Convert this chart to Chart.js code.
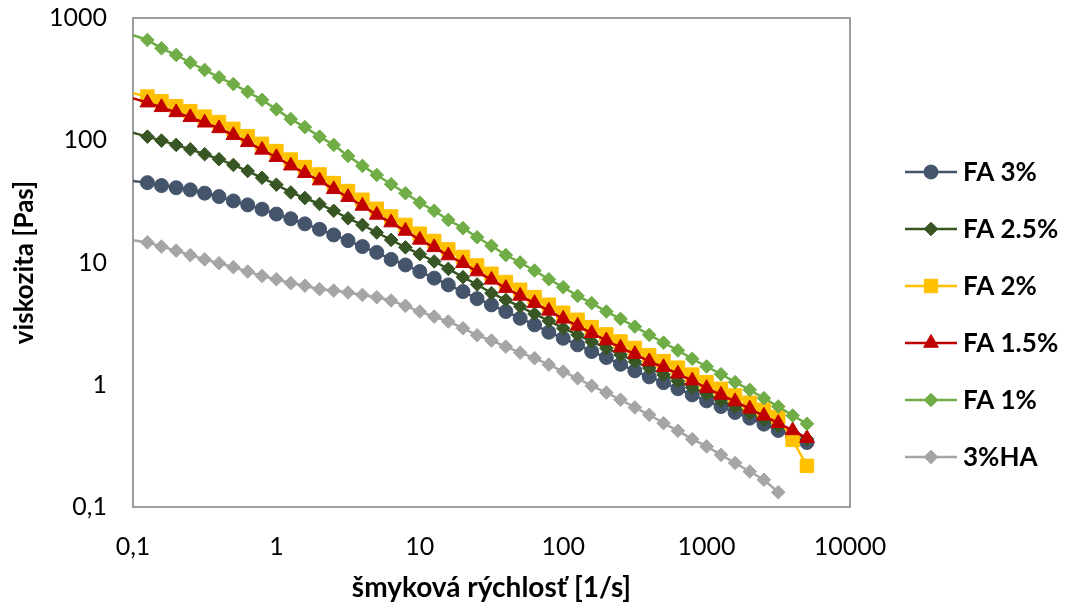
<!DOCTYPE html>
<html>
<head>
<meta charset="utf-8">
<script src="https://cdn.jsdelivr.net/npm/chart.js@4.4.1/dist/chart.umd.min.js"></script>
<style>
  html, body { margin: 0; padding: 0; background: #fff; }
</style>
</head>
<body>
<canvas id="grafViskozita" width="1069" height="607"></canvas>
<script>
// data (odčítané z grafu)
const shearRate = [0.0794, 0.126, 0.158, 0.2, 0.251, 0.316, 0.398, 0.501, 0.631, 0.794, 1,
  1.26, 1.58, 2, 2.51, 3.16, 3.98, 5.01, 6.31, 7.94, 10,
  12.6, 15.8, 20, 25.1, 31.6, 39.8, 50.1, 63.1, 79.4, 100,
  126, 158, 200, 251, 316, 398, 501, 631, 794, 1000,
  1260, 1580, 2000, 2510, 3160, 3980, 5010];

const fa3 = [48, 45.0, 42.6, 40.9, 39.3, 36.9, 34.6, 31.9, 29.6, 27.3, 24.9,
  22.8, 20.7, 18.7, 16.8, 15.1, 13.5, 12.1, 10.6, 9.55, 8.43,
  7.45, 6.56, 5.78, 5.06, 4.50, 3.97, 3.50, 3.09, 2.69, 2.40,
  2.12, 1.87, 1.67, 1.47, 1.30, 1.16, 1.04, 0.927, 0.826, 0.738,
  0.664, 0.593, 0.533, 0.476, 0.423, 0.378, 0.337];

const fa25 = [124, 107, 99.3, 91.6, 84.3, 76.9, 70.0, 62.8, 56.0, 49.3, 43.3,
  37.4, 33.7, 30.1, 26.5, 23.0, 20.3, 17.6, 15.3, 13.3, 11.7,
  10.2, 8.87, 7.59, 6.61, 5.61, 4.94, 4.36, 3.80, 3.33, 2.90,
  2.56, 2.25, 1.99, 1.76, 1.55, 1.37, 1.21, 1.07, 0.951, 0.841,
  0.745, 0.661, 0.586, 0.519, 0.460, 0.407, 0.361];

const fa2 = [257, 228, 209, 190, 173, 156, 141, 124, 108, 93.5, 81.5,
  69.5, 60.3, 52.5, 44.6, 38.4, 32.6, 27.5, 23.8, 20.3, 17.2,
  15.0, 12.8, 11.1, 9.46, 8.09, 6.92, 5.98, 5.21, 4.51, 3.88,
  3.40, 2.96, 2.58, 2.26, 2.00, 1.74, 1.56, 1.38, 1.21, 1.05,
  0.927, 0.818, 0.713, 0.625, 0.545, 0.354, 0.217];

const fa15 = [240, 203, 186, 169, 154, 139, 125, 110, 96.2, 83.4, 72.6,
  61.9, 53.7, 46.8, 39.7, 34.2, 29.0, 24.5, 21.2, 18.1, 15.3,
  13.3, 11.4, 9.86, 8.43, 7.21, 6.17, 5.33, 4.65, 4.02, 3.46,
  3.03, 2.64, 2.30, 2.01, 1.78, 1.55, 1.39, 1.23, 1.08, 0.938,
  0.826, 0.730, 0.635, 0.557, 0.485, 0.423, 0.366];

const fa1 = [795, 661, 565, 498, 432, 376, 327, 288, 249, 214, 179,
  149, 128, 107, 91.6, 74.5, 61.7, 52.0, 43.7, 36.9, 30.9,
  26.5, 22.3, 19.1, 16.1, 13.7, 11.5, 10.0, 8.59, 7.29, 6.28,
  5.33, 4.65, 3.97, 3.46, 2.99, 2.56, 2.21, 1.91, 1.63, 1.41,
  1.22, 1.05, 0.908, 0.776, 0.664, 0.560, 0.479];

const ha3 = [15.8, 14.6, 13.5, 12.5, 11.5, 10.6, 9.87, 9.16, 8.43, 7.76, 7.29,
  6.78, 6.46, 6.05, 5.89, 5.68, 5.43, 5.20, 4.89, 4.42, 3.97,
  3.61, 3.29, 2.90, 2.54, 2.30, 2.05, 1.83, 1.65, 1.46, 1.28,
  1.13, 0.980, 0.863, 0.754, 0.652, 0.568, 0.485, 0.420, 0.359, 0.313,
  0.267, 0.229, 0.195, 0.167, 0.132];

const nazvy = ['FA 3%', 'FA 2.5%', 'FA 2%', 'FA 1.5%', 'FA 1%', '3%HA'];
const xTicks = [0.1, 1, 10, 100, 1000, 10000];
const xTickLabels = ['0,1', '1', '10', '100', '1000', '10000'];
const yTicks = [0.1, 1, 10, 100, 1000];
const yTickLabels = ['0,1', '1', '10', '100', '1000'];

// vzhľad sérií
const farby = ['#44546A', '#375623', '#FFC000', '#C00000', '#70AD47', '#A5A5A5'];
const znacky = ['circle', 'rectRot', 'rect', 'triangle', 'rectRot', 'rectRot'];
const velkosti = [7, 6.8, 9.5, 8.5, 6.8, 6.8];

const FONT = 'Lato, "Open Sans", sans-serif';

function body(hodnoty) {
  return hodnoty.map((v, i) => ({ x: shearRate[i], y: v }));
}

const serie = [fa3, fa25, fa2, fa15, fa1, ha3];
const datasets = serie.map((s, i) => ({
  label: nazvy[i],
  data: body(s),
  borderColor: farby[i],
  backgroundColor: farby[i],
  borderWidth: 2.5,
  pointStyle: znacky[i],
  pointRadius: velkosti[i],
  pointBorderWidth: 1,
  pointBorderColor: farby[i],
  pointBackgroundColor: farby[i],
  tension: 0,
  order: serie.length - i  // neskoršie série navrchu
}));

// rám okolo plochy grafu
const ramPlugin = {
  id: 'ram',
  beforeDatasetsDraw(chart) {
    const { ctx, chartArea } = chart;
    ctx.save();
    ctx.strokeStyle = '#9c9c9c';
    ctx.lineWidth = 2;
    ctx.strokeRect(chartArea.left, chartArea.top, chartArea.right - chartArea.left, chartArea.bottom - chartArea.top);
    ctx.restore();
  }
};

// legenda vpravo (čiara + značka)
const legendaPlugin = {
  id: 'legenda',
  afterDraw(chart) {
    const ctx = chart.ctx;
    ctx.save();
    chart.data.datasets.forEach((ds, i) => {
      const y = 172 + i * 57;
      ctx.strokeStyle = ds.borderColor;
      ctx.lineWidth = 2.5;
      ctx.beginPath();
      ctx.moveTo(905, y);
      ctx.lineTo(957, y);
      ctx.stroke();
      ctx.fillStyle = ds.pointBackgroundColor;
      ctx.strokeStyle = ds.pointBorderColor;
      ctx.lineWidth = 1;
      Chart.helpers.drawPoint(ctx, { pointStyle: ds.pointStyle, radius: ds.pointRadius, borderWidth: 1, rotation: 0 }, 931, y);
      ctx.fillStyle = '#000';
      ctx.font = 'bold 26px ' + FONT;
      ctx.textBaseline = 'middle';
      ctx.textAlign = 'left';
      ctx.fillText(ds.label, 963, y + 1);
    });
    ctx.restore();
  }
};

const canvas = document.getElementById('grafViskozita');
const myChart = new Chart(canvas.getContext('2d'), {
  type: 'line',
  data: { datasets: datasets },
  plugins: [ramPlugin, legendaPlugin],
  options: {
    responsive: false,
    animation: false,
    layout: { padding: { top: 18, right: 219, bottom: 0, left: 0 } },
    plugins: { legend: { display: false }, tooltip: { enabled: false } },
    scales: {
      x: {
        type: 'logarithmic',
        position: 'bottom',
        min: 0.1,
        max: 10000,
        grid: { display: false, drawTicks: false },
        border: { display: false },
        afterBuildTicks: s => { s.ticks = xTicks.map(v => ({ value: v })); },
        afterFit: s => { s.height = 100; s.paddingLeft = 0; s.paddingRight = 0; },
        ticks: {
          autoSkip: false,
          maxRotation: 0,
          padding: 25,
          color: '#000',
          font: { family: FONT, size: 25 },
          callback: v => xTickLabels[xTicks.indexOf(v)]
        },
        title: {
          display: true,
          text: 'šmyková rýchlosť [1/s]',
          color: '#000',
          font: { family: FONT, size: 28, weight: 'bold' },
          padding: { top: 0, bottom: 2 }
        }
      },
      y: {
        type: 'logarithmic',
        position: 'left',
        min: 0.1,
        max: 1000,
        grid: { display: false, drawTicks: false },
        border: { display: false },
        afterBuildTicks: s => { s.ticks = yTicks.map(v => ({ value: v })); },
        afterFit: s => { s.width = 133; s.paddingTop = 0; s.paddingBottom = 0; },
        ticks: {
          autoSkip: false,
          padding: 26,
          color: '#000',
          font: { family: FONT, size: 25 },
          callback: v => yTickLabels[yTicks.indexOf(v)]
        },
        title: {
          display: true,
          text: 'viskozita [Pas]',
          color: '#000',
          font: { family: FONT, size: 26, weight: 'bold' },
          padding: { top: 9, bottom: 0 }
        }
      }
    }
  }
});
</script>
</body>
</html>
